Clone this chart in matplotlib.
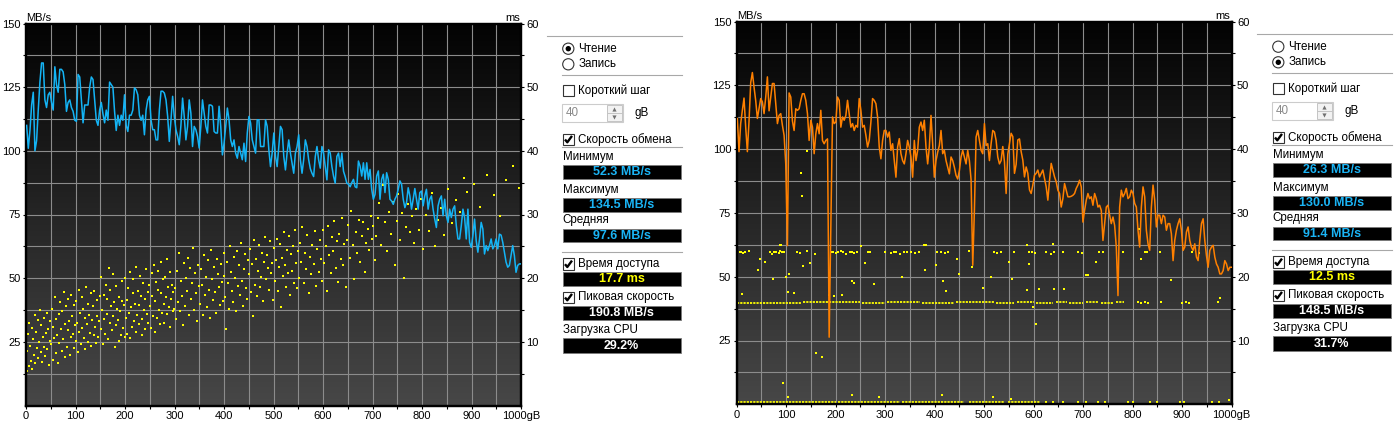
import numpy as np
import matplotlib.pyplot as plt
from matplotlib.patches import Rectangle, Circle
from matplotlib.colors import LinearSegmentedColormap

plt.rcParams['font.family'] = ['Liberation Sans', 'DejaVu Sans']

W, H = 1400, 428

# ---- read test (left) : transfer rate, MB/s, evenly spaced over the disk
read_mbs = [
    110, 101, 108, 118, 123, 100, 104, 116, 127, 134.5,
    134.5, 120, 117, 122, 123, 119, 116, 133, 126, 123,
    132, 132, 131, 126, 115.5, 119, 120, 117, 115.5, 112,
    111.6, 130, 129, 120, 111, 118, 118, 118, 125, 129,
    128, 120, 112, 110, 116, 119, 114.5, 111, 116, 112,
    127, 126, 125, 115.5, 108, 114, 110, 114, 112, 122,
    110, 107.6, 114, 114, 116, 124.7, 124, 122, 114, 112,
    114, 106.3, 116, 120, 121.4, 112, 108.3, 108.3, 104.3, 104.3,
    116, 123.4, 123.4, 122.7, 120, 113.5, 103.7, 112, 121.4, 113.5,
    108.3, 105.7, 102.4, 110, 120.7, 113.5, 104.3, 109.6, 120, 114.8,
    101.7, 109.6, 108.3, 105.7, 101.1, 109.6, 120, 114.8, 109.6, 107,
    118, 118, 117.5, 107.6, 107, 107, 117.5, 109.6, 98.4, 103,
    109.6, 116.8, 112.2, 104.3, 101.7, 104.3, 99.1, 97.1, 101.7, 99.1,
    96.5, 103, 95.8, 107, 113.5, 110.9, 104.3, 101.7, 99.1, 112.2,
    112.2, 101.7, 101.7, 101.7, 112.2, 109.6, 100.4, 93.8, 99.1, 107,
    97.8, 93.8, 101.7, 109.6, 108.3, 97.8, 92.5, 99.1, 104.3, 99.1,
    95.2, 91.2, 99.1, 101.7, 106.3, 96.5, 91.2, 96.5, 104.3, 101.7,
    96.5, 93, 91.2, 89.9, 97.8, 101.7, 96.5, 93.2, 101.7, 99.1,
    93.8, 88.6, 100.4, 99.1, 93.8, 90, 87.3, 97.8, 99.1, 93.8,
    99.1, 92, 89.9, 87.3,
    86.9, 85.9, 87.5, 88.8, 85.9, 85.5, 96, 94, 90.1, 95.3,
    88.8, 95.3, 88.8, 92.7, 84.9, 81, 82.9, 90.1, 92.1, 81,
    88.8, 90.8, 83.6, 91.4, 88.8, 81, 80.3, 79, 81, 82.3,
    84.9, 88.2, 86.9, 81, 77.7, 79.7, 85.5, 82.3, 77.1, 81,
    85.2, 81, 77.1, 83.6, 84.2, 78.4, 82.3, 84.9, 77.1, 81,
    82.3, 77.1, 73.2, 69.9, 78.4, 81, 82.3, 74.5, 81, 74.5,
    71.9, 77.1, 73.8, 77.1, 78.4, 70.6, 65.4, 65.4, 70.6, 77.1,
    73.8, 65.4, 77.1, 64.1, 62.1, 66.7, 73.2, 64.7, 60.2, 65.4,
    71.9, 69.3, 59.5, 62.8, 60.8, 62.8, 65.4, 61.5, 62.8, 65.4,
    61.5, 67.3, 66.9, 64.1, 60.2, 56.3, 54.3, 55, 58.9, 62.8,
    58.9, 52.3, 55, 55.6, 55.6,
]

# read test access times (ms)
read_acc_gb = [
    2, 3, 4, 6, 7, 9, 10, 12, 13, 15, 16, 18, 19, 21, 22, 24, 25, 27, 28, 30, 31, 33, 34, 36, 37, 39, 40, 42, 43, 45, 46, 48, 49,
    51, 52, 54, 55, 57, 58, 60, 61, 63, 64, 66, 67, 69, 70, 72, 73, 75, 76, 78, 79, 81, 82, 84, 85, 87, 88, 90, 91, 93, 94, 96, 97, 99,
    101, 102, 104, 105, 107, 108, 110, 111, 113, 114, 116, 117, 119, 120, 122, 123, 125, 126, 128, 129, 131, 132, 134, 135, 137, 138, 140, 141, 143, 144, 146, 147, 149,
    151, 152, 154, 155, 157, 158, 160, 161, 163, 164, 166, 167, 169, 170, 172, 173, 175, 176, 178, 179, 181, 182, 184, 185, 187, 188, 190, 191, 193, 194, 196, 197, 199,
    201, 202, 204, 205, 207, 208, 210, 211, 213, 214, 216, 217, 219, 220, 222, 223, 225, 226, 228, 229, 231, 232, 234, 235, 237, 238, 240, 241, 243, 244, 246, 247, 249,
    251, 252, 254, 255, 257, 258, 260, 261, 263, 264, 266, 267, 269, 270, 272, 273, 275, 276, 278, 279, 281, 282, 284, 285, 287, 288, 290, 291, 293, 294, 296, 297, 299,
    301, 303, 305, 307, 309, 311, 313, 315, 317, 319, 321, 323, 325, 327, 329, 331, 333, 335, 337, 339, 341, 343, 345, 347, 349,
    351, 353, 355, 357, 359, 361, 363, 365, 367, 369, 371, 373, 375, 377, 379, 381, 383, 385, 387, 389, 391, 393, 395, 397, 399,
    401, 403, 405, 407, 409, 411, 413, 415, 417, 419, 421, 423, 425, 427, 429, 431, 433, 435, 437, 439, 441, 443, 445, 447, 449,
    451, 453, 455, 457, 459, 461, 463, 465, 467, 469, 471, 473, 475, 477, 479, 481, 483, 485, 487, 489, 491, 493, 495, 497, 499,
    501, 503, 505, 507, 509, 511, 513, 515, 517, 519, 521, 523, 525, 527, 529, 531, 533, 535, 537, 539, 541, 543, 545, 547, 549,
    551, 553, 556, 558, 561, 563, 566, 568, 571, 573, 576, 578, 581, 583, 586, 588, 591, 593, 596, 598,
    601, 603, 606, 608, 611, 613, 616, 618, 621, 623, 626, 628, 631, 633, 636, 638, 641, 643, 646, 648,
    651, 654, 657, 660, 663, 666, 669, 672, 675, 678, 681, 684, 687, 690, 693, 696, 699,
    702, 705, 708, 711, 714, 718, 722, 726, 730, 734, 738, 742, 746, 749,
    752, 755, 759, 763, 767, 771, 775, 779, 784, 788, 793, 797,
    803, 808, 814, 820, 826, 832, 838, 845,
    853, 860, 868, 876, 884, 891,
    905, 918, 932, 946, 958, 970, 984, 995,
]
read_acc_ms = [
    8.6, 5.4, 11.2, 6.2, 13.0, 9.4, 7.0, 12.2, 5.8, 10.4, 8.0, 14.2, 6.6, 11.6, 9.0, 13.4, 7.4, 10.0, 15.0, 8.4, 12.6, 6.8, 10.8, 13.8, 9.2, 7.8, 11.4, 14.6, 8.8, 12.0, 6.4, 10.2, 13.2,
    9.6, 15.2, 7.2, 12.4, 10.6, 17.0, 8.2, 13.6, 11.0, 6.6, 14.4, 9.8, 16.2, 12.0, 8.6, 14.8, 10.4, 17.8, 7.6, 12.8, 15.6, 9.2, 11.8, 16.8, 13.2, 8.0, 10.8, 17.4, 14.0, 11.2, 9.0, 15.8, 12.6,
    10.2, 16.4, 13.0, 8.4, 18.2, 11.6, 14.6, 9.6, 17.0, 12.2, 15.2, 10.6, 13.8, 8.8, 18.6, 12.8, 16.0, 10.0, 14.2, 11.4, 17.6, 9.4, 13.4, 15.6, 11.0, 18.0, 12.4, 9.8, 16.6, 14.0, 10.8, 13.2, 17.2,
    12.0, 20.2, 15.0, 9.6, 17.4, 13.6, 11.2, 19.0, 14.4, 16.8, 10.4, 21.6, 13.0, 18.2, 15.6, 11.8, 20.6, 14.0, 16.2, 9.2, 12.6, 18.8, 15.2, 13.4, 10.2, 17.0, 14.8, 11.0, 19.6, 16.4, 12.2, 15.8, 10.8,
    20.0, 13.8, 16.6, 11.2, 18.4, 14.6, 10.6, 21.0, 15.4, 12.4, 17.6, 19.8, 13.2, 16.0, 11.6, 21.8, 14.2, 18.0, 12.8, 15.8, 20.4, 17.2, 13.6, 11.0, 19.2, 15.0, 16.8, 12.0, 21.4, 14.4, 17.8, 13.0, 19.0,
    15.6, 12.2, 20.8, 17.2, 14.0, 22.0, 16.4, 11.6, 19.4, 13.8, 18.2, 21.2, 15.0, 12.8, 17.6, 22.6, 14.6, 19.8, 16.0, 13.0, 20.2, 17.0, 14.4, 23.0, 18.6, 15.4, 12.4, 21.0, 16.8, 19.0, 14.8, 17.8, 15.2,
    18.4, 13.6, 21.2, 16.2, 24.0, 14.8, 19.6, 17.2, 12.6, 22.4, 15.6, 20.0, 18.0, 23.2, 14.2, 21.6, 16.8, 19.2, 24.8, 15.0, 20.8, 17.6, 13.2, 22.0, 18.8,
    16.0, 21.4, 19.0, 14.2, 23.6, 17.4, 20.2, 15.4, 22.8, 18.2, 13.8, 24.4, 19.8, 16.6, 21.8, 17.8, 14.6, 23.0, 20.6, 18.6, 15.8, 22.2, 19.4, 16.4, 24.0,
    20.4, 17.0, 12.0, 22.6, 19.2, 15.2, 25.0, 21.0, 18.0, 16.2, 23.4, 20.0, 14.8, 24.2, 18.8, 22.0, 17.4, 25.6, 19.6, 15.6, 21.4, 23.8, 18.4, 16.8, 22.8,
    20.6, 24.6, 17.8, 22.2, 14.0, 26.0, 19.0, 23.0, 17.2, 21.2, 25.2, 18.6, 20.2, 24.0, 16.4, 22.6, 26.4, 19.8, 23.6, 21.6, 18.2, 25.8, 20.8, 22.4, 16.6,
    24.8, 19.6, 22.8, 26.2, 18.0, 21.8, 25.4, 15.4, 23.2, 20.4, 27.2, 22.0, 18.6, 24.4, 20.8, 26.6, 17.4, 23.8, 21.2, 25.0, 19.2, 27.6, 22.4, 18.4, 24.2,
    20.0, 25.6, 22.6, 28.0, 19.2, 24.0, 21.4, 26.8, 17.6, 23.4, 20.6, 25.2, 22.2, 27.4, 18.8, 24.6, 21.0, 26.0, 23.0, 19.6,
    27.6, 22.4, 25.0, 18.0, 28.2, 23.6, 20.8, 26.4, 24.2, 29.0, 21.6, 25.8, 19.4, 27.0, 23.0, 29.4, 22.0, 25.4, 18.6, 26.0,
    28.4, 23.2, 30.6, 25.2, 19.8, 27.2, 24.0, 29.2, 22.6, 26.6, 28.8, 21.0, 25.6, 27.8, 24.4, 29.8, 26.2,
    28.2, 22.8, 26.6, 29.4, 31.8, 25.2, 34.6, 28.8, 24.2, 30.4, 27.0, 32.0, 22.0, 29.0,
    33.2, 26.0, 30.2, 20.0, 28.0, 31.6, 27.2, 29.8, 25.6, 30.8, 27.6, 32.4,
    24.6, 30.0, 27.4, 33.4, 25.0, 29.2, 31.0, 26.8,
    34.0, 28.6, 32.2, 30.4, 35.8, 33.6,
    34.8, 31.2, 36.2, 33.0, 29.8, 35.4, 37.6, 34.2,
]

# ---- write test (right)
write_mbs = [
    112, 99, 110, 115.2, 120, 108.6, 99, 111, 126, 130,
    124.3, 119, 112, 115.8, 119.8, 118.5, 113.9, 120.4, 128.3, 115,
    120.4, 125.7, 125.7, 118, 110, 113.2, 113.9, 109.3, 105.4, 94.2,
    62.2, 122, 120.4, 111, 107.3, 115.8, 115.2, 115.8, 119.1, 121.7,
    121.7, 119.1, 113.9, 103.4, 111.3, 108.6, 98.2, 106, 110, 106,
    115.2, 103.4, 102.1, 103.4, 104, 26.3, 69, 112.6, 110, 110.6,
    120.4, 119.1, 108.6, 112.6, 111.3, 113.2, 119.1, 113.9, 108.6, 110,
    107.3, 109.3, 108.6, 119.8, 115.2, 108.6, 109.3, 105.4, 100.8, 103.4,
    110.6, 119.8, 119.1, 117.8, 112.6, 100.8, 96.2, 103.4, 107.3, 107.3,
    104.7, 106.7, 99.5, 102.1, 95.5, 89, 100.8, 104.1, 98.2, 95.5,
    94.2, 98.2, 103.4, 100.8, 96.9, 89, 103.4, 95.5, 99.5, 108.6,
    110.6, 107.3, 111.3, 100.8, 94.2, 100.8, 113.2, 102.1, 89, 95.5,
    98.8, 101.4, 107.3, 98.2, 99.5, 95.5, 92.9, 90.3, 96.9, 95.5,
    92.9, 89.7, 88.3, 91.6, 96.9, 99.5, 96.9, 94.2, 99.5, 95.5,
    88, 54.5, 76, 104.7, 107.3, 103.4, 99.5, 98.2, 110, 101.4,
    102.1, 95.5, 102.1, 107.3, 106.7, 103.4, 96.9, 94.2, 95.5,
    101, 95, 82.6, 98, 102, 106.2, 104.9, 90.5, 94, 103.6,
    104, 99, 95.7, 89.1, 93, 90.5, 84, 82.6, 85.9, 89.8,
    90.5, 91.8, 89.1, 90.5, 91.8, 88.5, 85.2, 80, 87.8, 94.4,
    91.8, 89.1, 87.2, 83.9, 82.6, 77.3, 80.6, 86.5, 83.9, 81.3,
    81.3, 81.5, 81.9, 82.6, 84.6, 85.9, 87.8, 85.2, 71.4, 76,
    80, 82.6, 80.6, 81.3, 78, 82.6, 80.6, 77.3, 78, 76,
    64.2, 70.8, 77.3, 78, 74.1, 70.8, 73.4, 70.1, 61.6, 42.6,
    77.3, 83.9, 81.3, 82.6, 84.6, 80.6, 81.3, 83.9, 82.6, 78.7,
    77.3, 68.2, 61.6, 77.3, 85.2, 81.3, 68.2, 62.9, 60.3, 77.3,
    85.9, 80, 69.5, 74.1, 74.1, 70.8, 74.1, 73.4, 68.2, 70.8,
    70.8, 66.8, 56.3, 64.2, 68.2, 70.8, 72.7, 68.2, 60.3, 61.6,
    67.5, 69.5, 64.2, 61.6, 60.3, 62.9, 57.7, 56.3, 64.2, 70.8,
    72.7, 64.2, 58.3, 53.7, 60.3, 61.6, 62.3, 57.7, 55, 53.7,
    51.1, 51.1, 52.4, 56.3, 55, 52.4, 53.7, 53.7,
]

# write test: dense access-time bands (start gB, end gB, ms)
write_runs = [
    (1, 130, 15.9), (133, 250, 16.0), (253, 300, 15.9), (303, 370, 16.0), (374, 440, 15.9),
    (444, 520, 16.0), (525, 560, 15.9), (566, 600, 16.0), (604, 640, 15.9), (646, 668, 16.0),
    (672, 700, 15.9), (706, 730, 16.0), (736, 760, 15.9), (766, 782, 16.0),
    (1, 200, 0.35), (204, 330, 0.35), (334, 460, 0.35), (470, 540, 0.35), (548, 612, 0.35),
]

write_acc_gb = [
    6, 9, 12, 16, 25, 68, 72, 75, 80, 85, 88, 92, 95, 122, 128,
    190, 195, 200, 205, 210, 215, 220, 228, 233, 238, 243, 265, 270,
    300, 312, 318, 322, 330, 338, 345, 352, 360, 368, 405, 412, 420, 428, 470,
    520, 527, 535, 560, 590, 597, 603, 625, 635, 642, 660, 690, 698, 733, 740, 780,
    825, 830, 855, 920, 935,
    812, 818, 826, 832, 858, 900, 908, 915, 972,
    625, 640, 660, 690, 705, 730, 745, 790, 800, 835, 850, 895, 905, 960, 975, 995,
    143, 130, 132, 88, 47, 74, 44, 10, 115, 105, 149, 135, 159, 233, 238, 260, 277,
    334, 380, 402, 417, 422, 446, 449, 497, 514, 196, 252, 382, 100, 104, 161, 172,
    94, 104, 288, 233, 414, 518, 555, 605, 587, 611, 641, 706, 877, 57, 143, 158,
    403, 475, 551, 590, 587, 640, 727, 976, 89, 378, 709, 557, 662, 817, 598, 813, 212, 187,
]
write_acc_ms = [
    23.8, 23.9, 23.7, 23.8, 24.0, 23.8, 23.6, 23.9, 23.8, 23.7, 24.0, 23.8, 23.9, 23.8, 23.7,
    23.9, 23.8, 23.7, 23.8, 24.0, 23.8, 23.6, 23.8, 23.9, 23.7, 23.8, 23.8, 23.9,
    23.8, 23.7, 23.9, 23.8, 23.6, 23.8, 23.9, 23.8, 23.7, 23.9, 23.8, 23.9, 23.7, 23.8, 24.1,
    23.8, 23.7, 23.9, 23.8, 23.8, 23.9, 23.7, 23.8, 23.6, 23.9, 23.8, 23.8, 23.7, 23.9, 23.8, 23.8,
    23.8, 23.9, 23.8, 23.8, 23.7,
    16.0, 15.8, 16.0, 15.9, 16.1, 15.9, 16.0, 15.9, 16.1,
    0.4, 0.3, 0.35, 0.4, 0.3, 0.35, 0.4, 0.3, 0.35, 0.4, 0.3, 0.35, 0.4, 0.3, 0.35, 0.6,
    39.7, 36.2, 32.7, 25.0, 22.7, 19.6, 21.0, 17.3, 17.5, 20.4, 22.2, 21.6, 23.6, 19.3, 19.0, 22.2, 18.8,
    20.0, 21.0, 21.8, 19.3, 17.8, 22.8, 20.4, 18.3, 19.9, 17.0, 24.8, 25.0, 20.0, 17.6, 8.1, 7.4,
    3.3, 1.2, 1.2, 1.5, 1.4, 1.2, 0.9, 12.6, 17.9, 18.1, 18.1, 20.2, 19.5, 22.3, 24.1, 23.5,
    21.8, 21.5, 22.3, 22.0, 24.9, 25.2, 22.3, 16.6, 24.9, 24.9, 20.2, 19.6, 18.0, 22.8, 15.2, 27.5, 17.1, 17.1,
]

stat_labels = ['Минимум', 'Максимум', 'Средняя', 'Время доступа', 'Пиковая скорость', 'Загрузка CPU']
read_stats = ['52.3 MB/s', '134.5 MB/s', '97.6 MB/s', '17.7 ms', '190.8 MB/s', '29.2%']
write_stats = ['26.3 MB/s', '130.0 MB/s', '91.4 MB/s', '12.5 ms', '148.5 MB/s', '31.7%']
stat_colors = ['#1ab4f5', '#1ab4f5', '#1ab4f5', '#ffff00', 'white', 'white']

x_labels = ['0', '100', '200', '300', '400', '500', '600', '700', '800', '900', '1000gB']

fig = plt.figure(figsize=(W / 100, H / 100), dpi=100, facecolor='white')
ui = fig.add_axes([0, 0, 1, 1])
ui.set_xlim(0, W)
ui.set_ylim(H, 0)
ui.axis('off')

bg = LinearSegmentedColormap.from_list('bg', ['#030303', '#474747'])


def chart(left, right, top, bottom, mbs, color, dots_gb, dots_ms, runs):
    ax = fig.add_axes([left / W, 1 - bottom / H, (right - left) / W, (bottom - top) / H])
    ax2 = ax.twinx()
    ax.set_zorder(ax2.get_zorder() + 1)
    ax.patch.set_visible(False)

    ax2.imshow(np.linspace(0, 1, 256).reshape(-1, 1), cmap=bg, extent=[0, 1000, 0, 60],
               aspect='auto', zorder=0)
    ax2.vlines(np.arange(50, 1000, 50), 0, 60, color='#8c8c8c', lw=0.8, zorder=1)
    ax2.hlines(np.arange(5, 60, 5), 0, 1000, color='#8c8c8c', lw=0.8, zorder=1)
    for s, e, ms in runs:
        ax2.hlines(ms, s, e, color='#ffff00', lw=1.3, linestyles=(0, (1.2, 0.6)), zorder=3)
    ax2.scatter(dots_gb, dots_ms, s=2.0, marker='s', c='#ffff00', linewidths=0, zorder=3)

    xs = np.linspace(1.3, 1000, len(mbs))
    ax.plot(xs, mbs, color=color, lw=1.1, zorder=3)

    ax.set_xlim(0, 1000)
    ax.set_ylim(0, 150)
    ax2.set_ylim(0, 60)
    ax2.set_xlim(0, 1000)

    ax.set_xticks(np.arange(0, 1001, 100))
    ax.set_xticklabels(x_labels)
    ax.set_xticks(np.arange(50, 1000, 100), minor=True)
    ax.set_yticks(np.arange(25, 151, 25))
    ax.set_yticks(np.arange(12.5, 150, 25), minor=True)
    ax2.set_yticks(np.arange(10, 61, 10))
    ax2.set_yticks(np.arange(5, 60, 10), minor=True)
    for a in (ax, ax2):
        a.tick_params(which='major', direction='out', length=2.5, width=0.8, labelsize=8, pad=1.5)
        a.tick_params(which='minor', direction='out', length=2.5, width=0.8)
        for sp in a.spines.values():
            sp.set_color('black')
            sp.set_linewidth(1.6)

    ui.text(left, top - 6, 'MB/s', fontsize=8, va='center', ha='left')
    ui.text(right - 1, top - 6, 'ms', fontsize=8, va='center', ha='right')


chart(26, 521, 23.5, 405.5, read_mbs, '#14b4f5', read_acc_gb, read_acc_ms, [])
chart(736.7, 1231.5, 21.5, 404.3, write_mbs, '#ff8000', write_acc_gb, write_acc_ms, write_runs)


def check(x, y):
    ui.add_patch(Rectangle((x, y - 5.8), 11.6, 11.6, fc='white', ec='#333333', lw=0.8))


def tick(x, y):
    ui.plot([x + 2.3, x + 4.6, x + 9.3], [y + 0.2, y + 3.0, y - 3.4], color='black', lw=1.7,
            solid_capstyle='butt')


def panel(x0, dy, read_on, stats):
    def t(x, y, s, **kw):
        ui.text(x, y + dy, s, fontsize=8.4, va='center', ha='left', **kw)

    def sep(xa, y):
        ui.plot([xa, x0 + 119], [y + dy, y + dy], color='#a8a8a8', lw=0.8)

    sep(x0 - 16, 36)
    for y, lab, on in [(48.7, 'Чтение', read_on), (64.3, 'Запись', not read_on)]:
        ui.add_patch(Circle((x0 + 5.6, y + dy), 5.6, fc='white', ec='#333333', lw=0.8))
        if on:
            ui.add_patch(Circle((x0 + 5.6, y + dy), 2.7, fc='black', ec='none'))
        t(x0 + 15.5, y, lab)
    sep(x0 - 1, 75)

    check(x0, 90.3 + dy)
    t(x0 + 15.5, 90.3, 'Короткий шаг')

    ui.add_patch(Rectangle((x0 - 1, 104 + dy), 61, 17.7, fc='white', ec='#cccccc', lw=0.8))
    t(x0 + 3.5, 112.7, '40', color='#8a8a8a')
    ui.add_patch(Rectangle((x0 + 44, 105 + dy), 15, 15.7, fc='#f2f2f2', ec='#c4c4c4', lw=0.7))
    ui.plot([x0 + 44, x0 + 59], [112.8 + dy, 112.8 + dy], color='#c4c4c4', lw=0.7)
    ui.plot([x0 + 51.5], [109.2 + dy], marker='^', ms=3, color='#707070', mec='none')
    ui.plot([x0 + 51.5], [116.5 + dy], marker='v', ms=3, color='#707070', mec='none')
    t(x0 + 72, 112.7, 'gB')

    check(x0, 139.3 + dy)
    tick(x0, 139.3 + dy)
    t(x0 + 15.5, 139.3, 'Скорость обмена')
    sep(x0 - 1, 147.3)
    sep(x0 - 1, 251.7)

    label_y = [156.7, 190, 220, 264, 297.3, 330]
    box_y = [(165, 179), (198.3, 211.7), (229, 242.3), (272.3, 285.7), (306, 320), (338.3, 353.3)]
    for i, lab in enumerate(stat_labels):
        if i in (3, 4):
            check(x0, label_y[i] + dy)
            tick(x0, label_y[i] + dy)
            t(x0 + 15.5, label_y[i], lab)
        else:
            t(x0, label_y[i], lab)
        y1, y2 = box_y[i]
        ui.add_patch(Rectangle((x0, y1 + dy), 118, y2 - y1, fc='black', ec='#7a7a7a', lw=0.6))
        ui.text(x0 + 59, (y1 + y2) / 2 + dy, stats[i], fontsize=9, fontweight='bold',
                color=stat_colors[i], ha='center', va='center')


panel(562.7, 0, True, read_stats)
panel(1272.7, -2, False, write_stats)

fig.savefig('out.png', dpi=100, facecolor='white')
